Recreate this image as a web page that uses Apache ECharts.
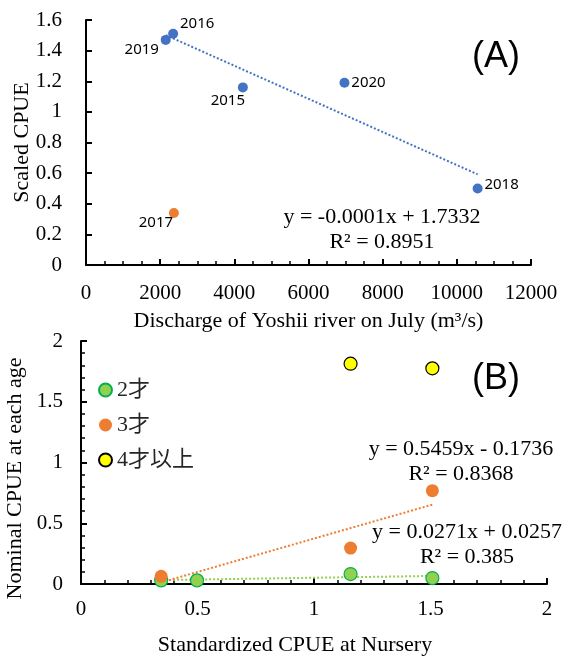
<!DOCTYPE html>
<html>
<head>
<meta charset="utf-8">
<script src="https://cdn.jsdelivr.net/npm/echarts@6/dist/echarts.min.js"></script>
<style>
  html, body { margin: 0; padding: 0; background: #fff; }
  #chart { width: 562px; height: 658px; }
</style>
</head>
<body>
<div id="chart"></div>
<script>
// panel A: discharge vs scaled CPUE
const yearsA = ['2015', '2016', '2018', '2019', '2020'];
const dischargeA = [4230, 2350, 10560, 2150, 6970];
const cpueA = [1.16, 1.51, 0.50, 1.47, 1.19];
const yearsOut = ['2017'];
const dischargeOut = [2370];
const cpueOut = [0.34];

// panel B: nursery CPUE vs CPUE by age
const nurseryX = [0.344, 0.498, 1.157, 1.508];
const age2 = [0.030, 0.030, 0.082, 0.049];
const age3 = [0.063, null, 0.296, 0.768];
const age4 = [null, null, 1.813, 1.775];
const ageNames = ['2才', '3才', '4才以上'];

const eqA = ['y = -0.0001x + 1.7332', 'R² = 0.8951'];
const eqB3 = ['y = 0.5459x - 0.1736', 'R² = 0.8368'];
const eqB2 = ['y = 0.0271x + 0.0257', 'R² = 0.385'];

// label offsets (px) for year labels
const labelOffset = {
    '2015': [-15, 13], '2016': [24, -10], '2018': [24, -4],
    '2019': [-24, 10], '2020': [24, 0], '2017': [-18, 10]
};

const serif = "'Liberation Serif', 'Times New Roman', serif";
const BLUE = '#4472C4', ORANGE = '#ED7D31', GREEN = '#92D050';

function pairs(xs, ys) {
    return xs.map((x, i) => [x, ys[i]]).filter(p => p[1] != null);
}

// least squares line over the range of the points
function fitLine(pts) {
    const n = pts.length;
    let sx = 0, sy = 0;
    pts.forEach(p => { sx += p[0]; sy += p[1]; });
    const mx = sx / n, my = sy / n;
    let sxx = 0, sxy = 0;
    pts.forEach(p => { sxx += (p[0] - mx) * (p[0] - mx); sxy += (p[0] - mx) * (p[1] - my); });
    const b = sxy / sxx, a = my - b * mx;
    const xs = pts.map(p => p[0]);
    const x0 = Math.min(...xs), x1 = Math.max(...xs);
    return [[x0, a + b * x0], [x1, a + b * x1]];
}

function yearData(xs, ys, names) {
    return xs.map((x, i) => ({
        value: [x, ys[i]],
        name: names[i],
        label: { offset: labelOffset[names[i]] }
    }));
}

const yearLabel = {
    show: true, position: 'inside', formatter: '{b}',
    color: '#000', fontSize: 15, fontFamily: "'Noto Sans', 'Open Sans', sans-serif",
    textBorderWidth: 0
};

const tickFont = { color: '#000', fontSize: 21, fontFamily: serif };
const nameFont = { color: '#000', fontSize: 22, fontFamily: serif };
const axisLine = { show: true, onZero: false, lineStyle: { color: '#000', width: 2 } };
const axisTick = { show: true, inside: true, length: 6, lineStyle: { color: '#000', width: 2 } };
const minorTick = { show: true, length: 4, lineStyle: { color: '#000', width: 1.5 } };

function eqText(x, y, text) {
    return { type: 'text', x: x, y: y, style: { text: text, font: '22px ' + serif, fill: '#000', textAlign: 'center', textVerticalAlign: 'middle' } };
}

const chart = echarts.init(document.getElementById('chart'));
chart.setOption({
    animation: false,
    backgroundColor: '#fff',
    grid: [
        { left: 86, top: 20, width: 445, height: 245, outerBoundsMode: 'none' },
        { left: 81, top: 341, width: 466, height: 243, outerBoundsMode: 'none' }
    ],
    xAxis: [
        {
            gridIndex: 0, type: 'value', min: 0, max: 12000, interval: 2000,
            axisLine: axisLine, axisTick: axisTick,
            minorTick: Object.assign({ splitNumber: 4 }, minorTick),
            splitLine: { show: false },
            axisLabel: Object.assign({ margin: 18, formatter: v => String(v) }, tickFont),
            name: 'Discharge of Yoshii river on July (m³/s)',
            nameLocation: 'middle', nameGap: 45, nameMoveOverlap: false,
            nameTextStyle: nameFont
        },
        {
            gridIndex: 1, type: 'value', min: 0, max: 2, interval: 0.5,
            axisLine: axisLine, axisTick: axisTick,
            minorTick: Object.assign({ splitNumber: 5 }, minorTick),
            splitLine: { show: false },
            axisLabel: Object.assign({ margin: 15 }, tickFont),
            name: 'Standardized CPUE at Nursery',
            nameLocation: 'middle', nameGap: 50, nameMoveOverlap: false,
            nameTextStyle: Object.assign({ padding: [0, 38, 0, 0] }, nameFont)
        }
    ],
    yAxis: [
        {
            gridIndex: 0, type: 'value', min: 0, max: 1.6, interval: 0.2,
            axisLine: axisLine, axisTick: axisTick,
            splitLine: { show: false },
            axisLabel: Object.assign({ margin: 24 }, tickFont),
            name: 'Scaled CPUE',
            nameLocation: 'middle', nameGap: 53, nameMoveOverlap: false,
            nameTextStyle: nameFont
        },
        {
            gridIndex: 1, type: 'value', min: 0, max: 2, interval: 0.5,
            axisLine: axisLine, axisTick: axisTick,
            minorTick: Object.assign({ splitNumber: 5 }, minorTick),
            splitLine: { show: false },
            axisLabel: Object.assign({ margin: 18 }, tickFont),
            name: 'Nominal CPUE at each age',
            nameLocation: 'middle', nameGap: 55, nameMoveOverlap: false,
            nameTextStyle: Object.assign({ padding: [0, 32, 0, 0] }, nameFont)
        }
    ],
    legend: {
        data: ageNames,
        orient: 'vertical', left: 98, top: 379, padding: 0,
        itemWidth: 13, itemHeight: 13, itemGap: 13,
        selectedMode: false,
        textStyle: { color: '#262626', fontSize: 22, lineHeight: 20, fontFamily: "'Liberation Serif', 'Noto Sans CJK JP', serif" }
    },
    graphic: [
        { type: 'text', x: 496, y: 57, style: { text: '(A)', font: "36px 'Liberation Sans', Arial, sans-serif", fill: '#000', textAlign: 'center', textVerticalAlign: 'middle' } },
        { type: 'text', x: 496, y: 379, style: { text: '(B)', font: "36px 'Liberation Sans', Arial, sans-serif", fill: '#000', textAlign: 'center', textVerticalAlign: 'middle' } },
        eqText(382, 217, eqA[0]),
        eqText(382, 242, eqA[1]),
        eqText(461, 449, eqB3[0]),
        eqText(461, 474, eqB3[1]),
        eqText(467, 532, eqB2[0]),
        eqText(467, 557, eqB2[1])
    ],
    series: [
        {
            type: 'line', xAxisIndex: 0, yAxisIndex: 0, silent: true, symbol: 'none', z: 1,
            data: fitLine(pairs(dischargeA, cpueA)),
            lineStyle: { color: BLUE, width: 2, type: [2, 2] }
        },
        {
            name: 'cpueA', type: 'scatter', xAxisIndex: 0, yAxisIndex: 0, symbolSize: 10, z: 3,
            itemStyle: { color: BLUE, opacity: 1 },
            label: yearLabel,
            data: yearData(dischargeA, cpueA, yearsA)
        },
        {
            name: 'cpue2017', type: 'scatter', xAxisIndex: 0, yAxisIndex: 0, symbolSize: 10, z: 3,
            itemStyle: { color: ORANGE, opacity: 1 },
            label: yearLabel,
            data: yearData(dischargeOut, cpueOut, yearsOut)
        },
        {
            type: 'line', xAxisIndex: 1, yAxisIndex: 1, silent: true, symbol: 'none', z: 1,
            data: fitLine(pairs(nurseryX, age2)),
            lineStyle: { color: GREEN, width: 2, type: [2, 2] }
        },
        {
            type: 'line', xAxisIndex: 1, yAxisIndex: 1, silent: true, symbol: 'none', z: 1,
            data: fitLine(pairs(nurseryX, age3)),
            lineStyle: { color: ORANGE, width: 2, type: [2, 2] }
        },
        {
            name: ageNames[0], type: 'scatter', xAxisIndex: 1, yAxisIndex: 1, symbolSize: 13, z: 3,
            itemStyle: { color: GREEN, borderColor: '#00B050', borderWidth: 1.2, opacity: 1 },
            data: pairs(nurseryX, age2)
        },
        {
            name: ageNames[1], type: 'scatter', xAxisIndex: 1, yAxisIndex: 1, symbolSize: 13, z: 3,
            itemStyle: { color: ORANGE, opacity: 1 },
            data: pairs(nurseryX, age3)
        },
        {
            name: ageNames[2], type: 'scatter', xAxisIndex: 1, yAxisIndex: 1, symbolSize: 13, z: 3,
            itemStyle: { color: '#FFFF00', borderColor: '#000', borderWidth: 1.2, opacity: 1 },
            data: pairs(nurseryX, age4)
        }
    ]
});
window.addEventListener('resize', function () {
    chart.resize();
});
</script>
</body>
</html>
